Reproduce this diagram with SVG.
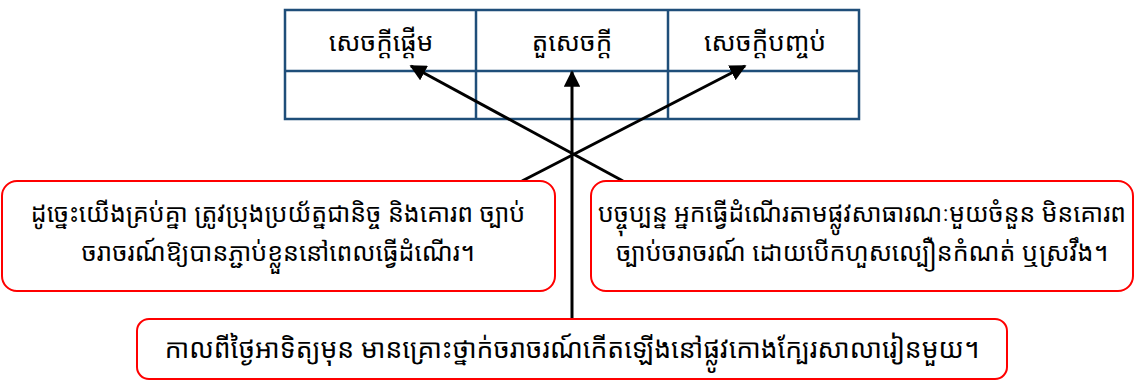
<svg xmlns="http://www.w3.org/2000/svg" width="1135" height="382" viewBox="0 0 1135 382">
<defs>
<style>
.cell{fill:#ffffff;stroke:#1f4e79;stroke-width:2.5}
.box{fill:#ffffff;stroke:#ff0000;stroke-width:2}
.t{font-family:"Noto Sans Khmer","Khmer OS","Noto Serif Khmer","Noto Sans",sans-serif;fill:#000000;text-anchor:middle}
.h{font-size:26px}
.b{font-size:25px}
.bb{font-size:26.5px}
.c{stroke:#000000;stroke-width:3;fill:none}
</style>
<marker id="ah" viewBox="0 0 10 10" refX="9" refY="5" markerWidth="5.5" markerHeight="5.5" markerUnits="strokeWidth" orient="auto">
<path d="M0,0 L10,5 L0,10 z" fill="#000000"/>
</marker>
</defs>
<rect width="1135" height="382" fill="#ffffff"/>
<g id="table">
<rect class="cell" x="285" y="10" width="574" height="109"/>
<line class="cell" x1="285" y1="71" x2="859" y2="71"/>
<line class="cell" x1="476" y1="10" x2="476" y2="119"/>
<line class="cell" x1="668" y1="10" x2="668" y2="119"/>
<text class="t h" x="381" y="51">សេចក្ដីផ្ដើម</text>
<text class="t h" x="572" y="51">តួសេចក្ដី</text>
<text class="t h" x="765" y="51">សេចក្ដីបញ្ចប់</text>
</g>
<g id="connectors">
<line class="c" x1="623" y1="181" x2="411" y2="66" marker-end="url(#ah)"/>
<line class="c" x1="522" y1="181" x2="745" y2="66" marker-end="url(#ah)"/>
<line class="c" x1="572" y1="318" x2="572" y2="72" marker-end="url(#ah)"/>
</g>
<g id="box-left">
<rect class="box" x="2" y="181" width="553" height="110" rx="15"/>
<text class="t b" x="278" y="222">ដូច្នេះយើងគ្រប់គ្នា ត្រូវប្រុងប្រយ័ត្នជានិច្ច និងគោរព ច្បាប់</text>
<text class="t b" x="278" y="261">ចរាចរណ៍ឱ្យបានភ្ជាប់ខ្លួននៅពេលធ្វើដំណើរ។</text>
</g>
<g id="box-right">
<rect class="box" x="591" y="181" width="542" height="110" rx="15"/>
<text class="t b" x="862" y="222" textLength="528" lengthAdjust="spacingAndGlyphs">បច្ចុប្បន្ន អ្នកធ្វើដំណើរតាមផ្លូវសាធារណៈមួយចំនួន មិនគោរព</text>
<text class="t b" x="862" y="261">ច្បាប់ចរាចរណ៍ ដោយបើកហួសល្បឿនកំណត់ ឬស្រវឹង។</text>
</g>
<g id="box-bottom">
<rect class="box" x="137" y="319" width="870" height="60" rx="12"/>
<text class="t bb" x="572" y="358">កាលពីថ្ងៃអាទិត្យមុន មានគ្រោះថ្នាក់ចរាចរណ៍កើតឡើងនៅផ្លូវកោងក្បែរសាលារៀនមួយ។</text>
</g>
</svg>
